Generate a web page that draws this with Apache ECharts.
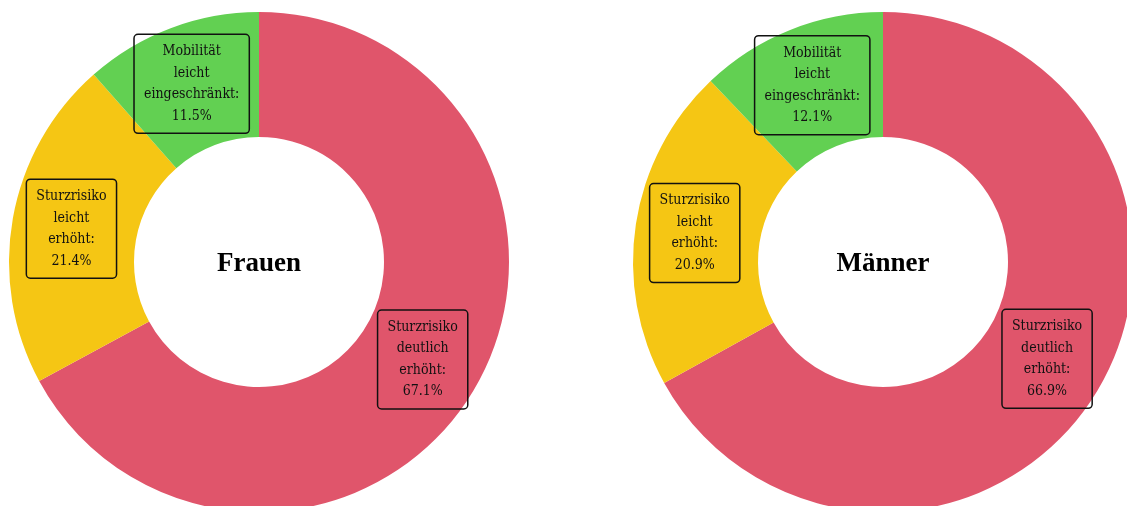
<!DOCTYPE html>
<html>
<head>
<meta charset="utf-8">
<script src="https://cdn.jsdelivr.net/npm/echarts@6/dist/echarts.min.js"></script>
<style>
  html, body { margin: 0; padding: 0; background: #fff; }
  #chart { width: 1127px; height: 506px; }
</style>
</head>
<body>
<div id="chart"></div>
<script>
// Kategorien (Zeilenumbrüche für die Beschriftung)
const categories = [
  'Sturzrisiko\ndeutlich\nerhöht',
  'Sturzrisiko\nleicht\nerhöht',
  'Mobilität\nleicht\neingeschränkt'
];
const groups = ['Frauen', 'Männer'];
// Anteile in Prozent
const valuesFrauen = [67.1, 21.4, 11.5];
const valuesMaenner = [66.9, 20.9, 12.1];
const colors = ['#e0556b', '#f5c614', '#62d052'];

const chart = echarts.init(document.getElementById('chart'));

const centers = [[259, 262], [883, 262]];
const allValues = [valuesFrauen, valuesMaenner];

const labelFont = "'DejaVu Serif Condensed', 'DejaVu Serif', serif";

const series = allValues.map((vals, i) => ({
  type: 'pie',
  center: centers[i],
  radius: [125, 250],
  startAngle: 90,
  clockwise: true,
  silent: true,
  avoidLabelOverlap: false,
  data: vals.map((v, j) => ({
    name: categories[j],
    value: v,
    itemStyle: { color: colors[j] }
  })),
  label: {
    show: true,
    position: 'inside',
    formatter: p => p.name + ':\n' + p.value.toFixed(1) + '%',
    fontFamily: labelFont,
    fontSize: 14,
    lineHeight: 21.5,
    color: '#111',
    align: 'center',
    borderColor: '#111',
    borderWidth: 1.5,
    borderRadius: 4,
    padding: [7, 10, 6, 10]
  },
  labelLine: { show: false }
}));

// Gruppenname in der Mitte jedes Rings
const titles = groups.map((g, i) => ({
  text: g,
  left: centers[i][0],
  top: centers[i][1] + 2,
  padding: 0,
  textAlign: 'center',
  textVerticalAlign: 'middle',
  textStyle: {
    fontFamily: "'Liberation Serif', 'DejaVu Serif', serif",
    fontWeight: 'bold',
    fontSize: 27,
    color: '#000'
  }
}));

chart.setOption({
  animation: false,
  title: titles,
  series: series
});
</script>
</body>
</html>
